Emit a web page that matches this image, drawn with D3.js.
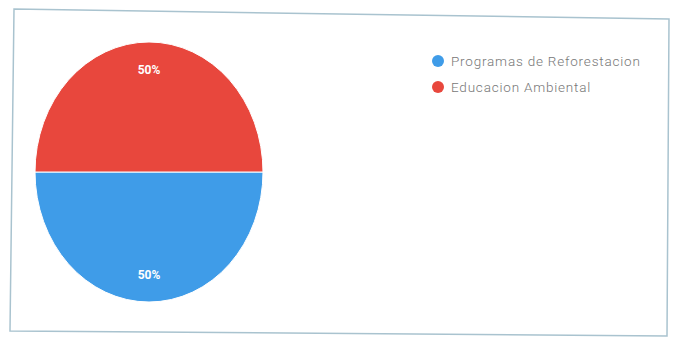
<!DOCTYPE html>
<html>
<head>
<meta charset="utf-8">
<script src="https://cdn.jsdelivr.net/npm/d3@7"></script>
<style>
  html, body { margin: 0; padding: 0; background: #fff; }
  svg { display: block; }
</style>
</head>
<body>
<svg id="chart" width="673" height="339"></svg>
<script>
// Pie chart: two halves, legend on the right.
const categories = ['Programas de Reforestacion', 'Educacion Ambiental'];
const values = [50, 50];
const labels = ['50%', '50%'];
const colors = ['#3f9ce8', '#e8473d'];

const svg = d3.select('#chart');

// outer frame (photo is slightly skewed)
const frame = [[14, 9], [669, 19], [667, 336], [10, 331]];
svg.append('path')
  .attr('d', d3.line()(frame) + 'Z')
  .attr('fill', 'none')
  .attr('stroke', '#a9c3cf')
  .attr('stroke-width', 1.5);

const cx = 149, cy = 172;
const radius = 114;
const yStretch = 130 / 114;

const pie = d3.pie()
  .sort(null)
  .value(d => d.value)
  .startAngle(Math.PI / 2)
  .endAngle(Math.PI * 5 / 2);

const data = categories.map((name, i) => ({ name, value: values[i], label: labels[i], color: colors[i] }));
const arcs = pie(data);

const arc = d3.arc().innerRadius(0).outerRadius(radius);
const labelArc = d3.arc().innerRadius(90).outerRadius(90);

const g = svg.append('g')
  .attr('transform', `translate(${cx},${cy}) scale(1,${yStretch})`);

g.selectAll('.slice')
  .data(arcs)
  .join('path')
  .attr('class', 'slice')
  .attr('d', arc)
  .attr('fill', d => d.data.color)
  .attr('stroke', '#fff')
  .attr('stroke-width', 1)
  .attr('vector-effect', 'non-scaling-stroke');

svg.append('g')
  .attr('transform', `translate(${cx},${cy})`)
  .selectAll('.slice-label')
  .data(arcs)
  .join('text')
  .attr('class', 'slice-label')
  .attr('x', d => labelArc.centroid(d)[0])
  .attr('y', d => labelArc.centroid(d)[1] * yStretch)
  .attr('dy', '0.35em')
  .attr('text-anchor', 'middle')
  .attr('font-family', 'Roboto, sans-serif')
  .attr('font-weight', 'bold')
  .attr('font-size', 12)
  .attr('fill', '#fff')
  .text(d => d.data.label);

// legend
const legend = svg.append('g').attr('transform', 'translate(438,61)');
const item = legend.selectAll('.legend-item')
  .data(data)
  .join('g')
  .attr('class', 'legend-item')
  .attr('transform', (d, i) => `translate(0,${i * 26})`);

item.append('circle')
  .attr('r', 6)
  .attr('fill', d => d.color);

item.append('text')
  .attr('x', 13)
  .attr('dy', '0.35em')
  .attr('font-family', 'Roboto, sans-serif')
  .attr('font-weight', 300)
  .attr('font-size', 13.5)
  .attr('letter-spacing', 0.8)
  .attr('fill', '#777')
  .text(d => d.name);
</script>
</body>
</html>
